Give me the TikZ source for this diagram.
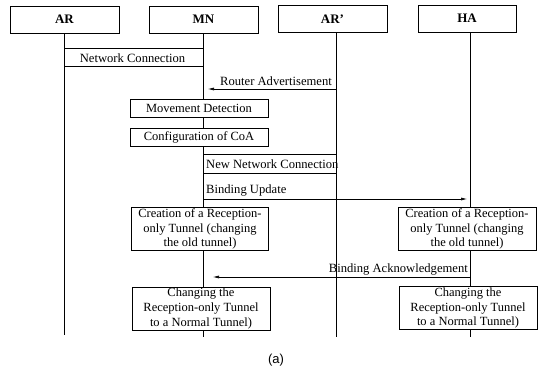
\documentclass[tikz,border=0pt]{standalone}
\usepackage{fontspec}
\setmainfont{Liberation Serif}
\newfontfamily\capfont{Liberation Sans}
\usetikzlibrary{arrows.meta}
\begin{document}
\begin{tikzpicture}[x=1pt,y=-1pt,
  head/.style={draw, line width=0.8pt, minimum height=27pt, inner sep=0pt,
    font=\fontsize{13}{15}\selectfont\bfseries},
  life/.style={line width=1pt},
  stepbox/.style={draw, fill=white, line width=0.7pt, inner sep=0pt, align=center,
    font=\fontsize{12.5}{14.6}\selectfont},
  band/.style={line width=0.5pt},
  msg/.style={line width=0.6pt, -{Latex[length=6pt,width=3pt]}},
  lbl/.style={font=\fontsize{12.6}{14.6}\selectfont, inner sep=0pt}
]
\useasboundingbox (0,0) rectangle (541,378);

% headers
\node[head, minimum width=109pt] (AR)  at (64.5,19.5) {AR};
\node[head, minimum width=109pt] (MN)  at (203.5,19.5) {MN};
\node[head, minimum width=109pt] (ARp) at (332.5,19) {AR'};
\node[head, minimum width=98pt]  (HA)  at (467,18.5) {HA};

% lifeline ends
\coordinate (ARend)  at (64,335);
\coordinate (MNend)  at (203,337);
\coordinate (ARpend) at (336,337);
\coordinate (HAend)  at (470,337);

\draw[life] (AR.south -| ARend) -- (ARend);
\draw[life] (MN.south -| MNend) -- (MNend);
\draw[life] (ARp.south -| ARpend) -- (ARpend);
\draw[life] (HA.south -| HAend) -- (HAend);

% y levels
\coordinate (ncT) at (0,48);
\coordinate (ncB) at (0,66);
\coordinate (yRA) at (0,89);
\coordinate (nnT) at (0,154);
\coordinate (nnB) at (0,173);
\coordinate (yBU) at (0,199);
\coordinate (yBA) at (0,277);
\coordinate (raTip) at (208,89);
\coordinate (baTip) at (213,277);
\coordinate (buTip) at (467,199);

% Network Connection
\draw[band] (ARend |- ncT) -- (MNend |- ncT);
\draw[band] (ARend |- ncB) -- (MNend |- ncB);
\node[lbl] (nc) at (132.5,58) {Network Connection};

% Router Advertisement
\node[lbl, anchor=east] (ra) at (332,81) {Router Advertisement};
\draw[msg] (ARpend |- yRA) -- (raTip);

% local steps
\node[stepbox, minimum width=138pt, minimum height=18pt] (md)  at (199,108) {Movement Detection};
\node[stepbox, minimum width=138pt, minimum height=18pt] (coa) at (199,137) {Configuration of CoA};

% New Network Connection
\draw[band] (MNend |- nnT) -- (ARpend |- nnT);
\draw[band] (MNend |- nnB) -- (ARpend |- nnB);
\node[lbl, anchor=west] (nnc) at (206,164) {New Network Connection};

% Binding Update
\node[lbl, anchor=west] (bu) at (206,190) {Binding Update};
\draw[msg] (MNend |- yBU) -- (buTip);

% Creation boxes
\node[stepbox, minimum width=137pt, minimum height=43pt] (crL) at (200,229)
  {Creation of a Reception-\\only Tunnel (changing\\the old tunnel)};
\node[stepbox, minimum width=138pt, minimum height=43pt] (crR) at (467,229)
  {Creation of a Reception-\\only Tunnel (changing\\the old tunnel)};

% Binding Acknowledgement
\node[lbl, anchor=east] (ba) at (468,269) {Binding Acknowledgement};
\draw[msg] (HAend |- yBA) -- (baTip);

% Changing boxes
\node[stepbox, minimum width=138pt, minimum height=43pt] (chL) at (201,308.5)
  {Changing the\\Reception-only Tunnel\\to a Normal Tunnel)};
\node[stepbox, minimum width=138pt, minimum height=43pt] (chR) at (468,308)
  {Changing the\\Reception-only Tunnel\\to a Normal Tunnel)};

% caption
\node[font=\capfont\fontsize{13}{15}\selectfont, inner sep=0pt] (cap) at (276,360) {(a)};
\end{tikzpicture}
\end{document}
